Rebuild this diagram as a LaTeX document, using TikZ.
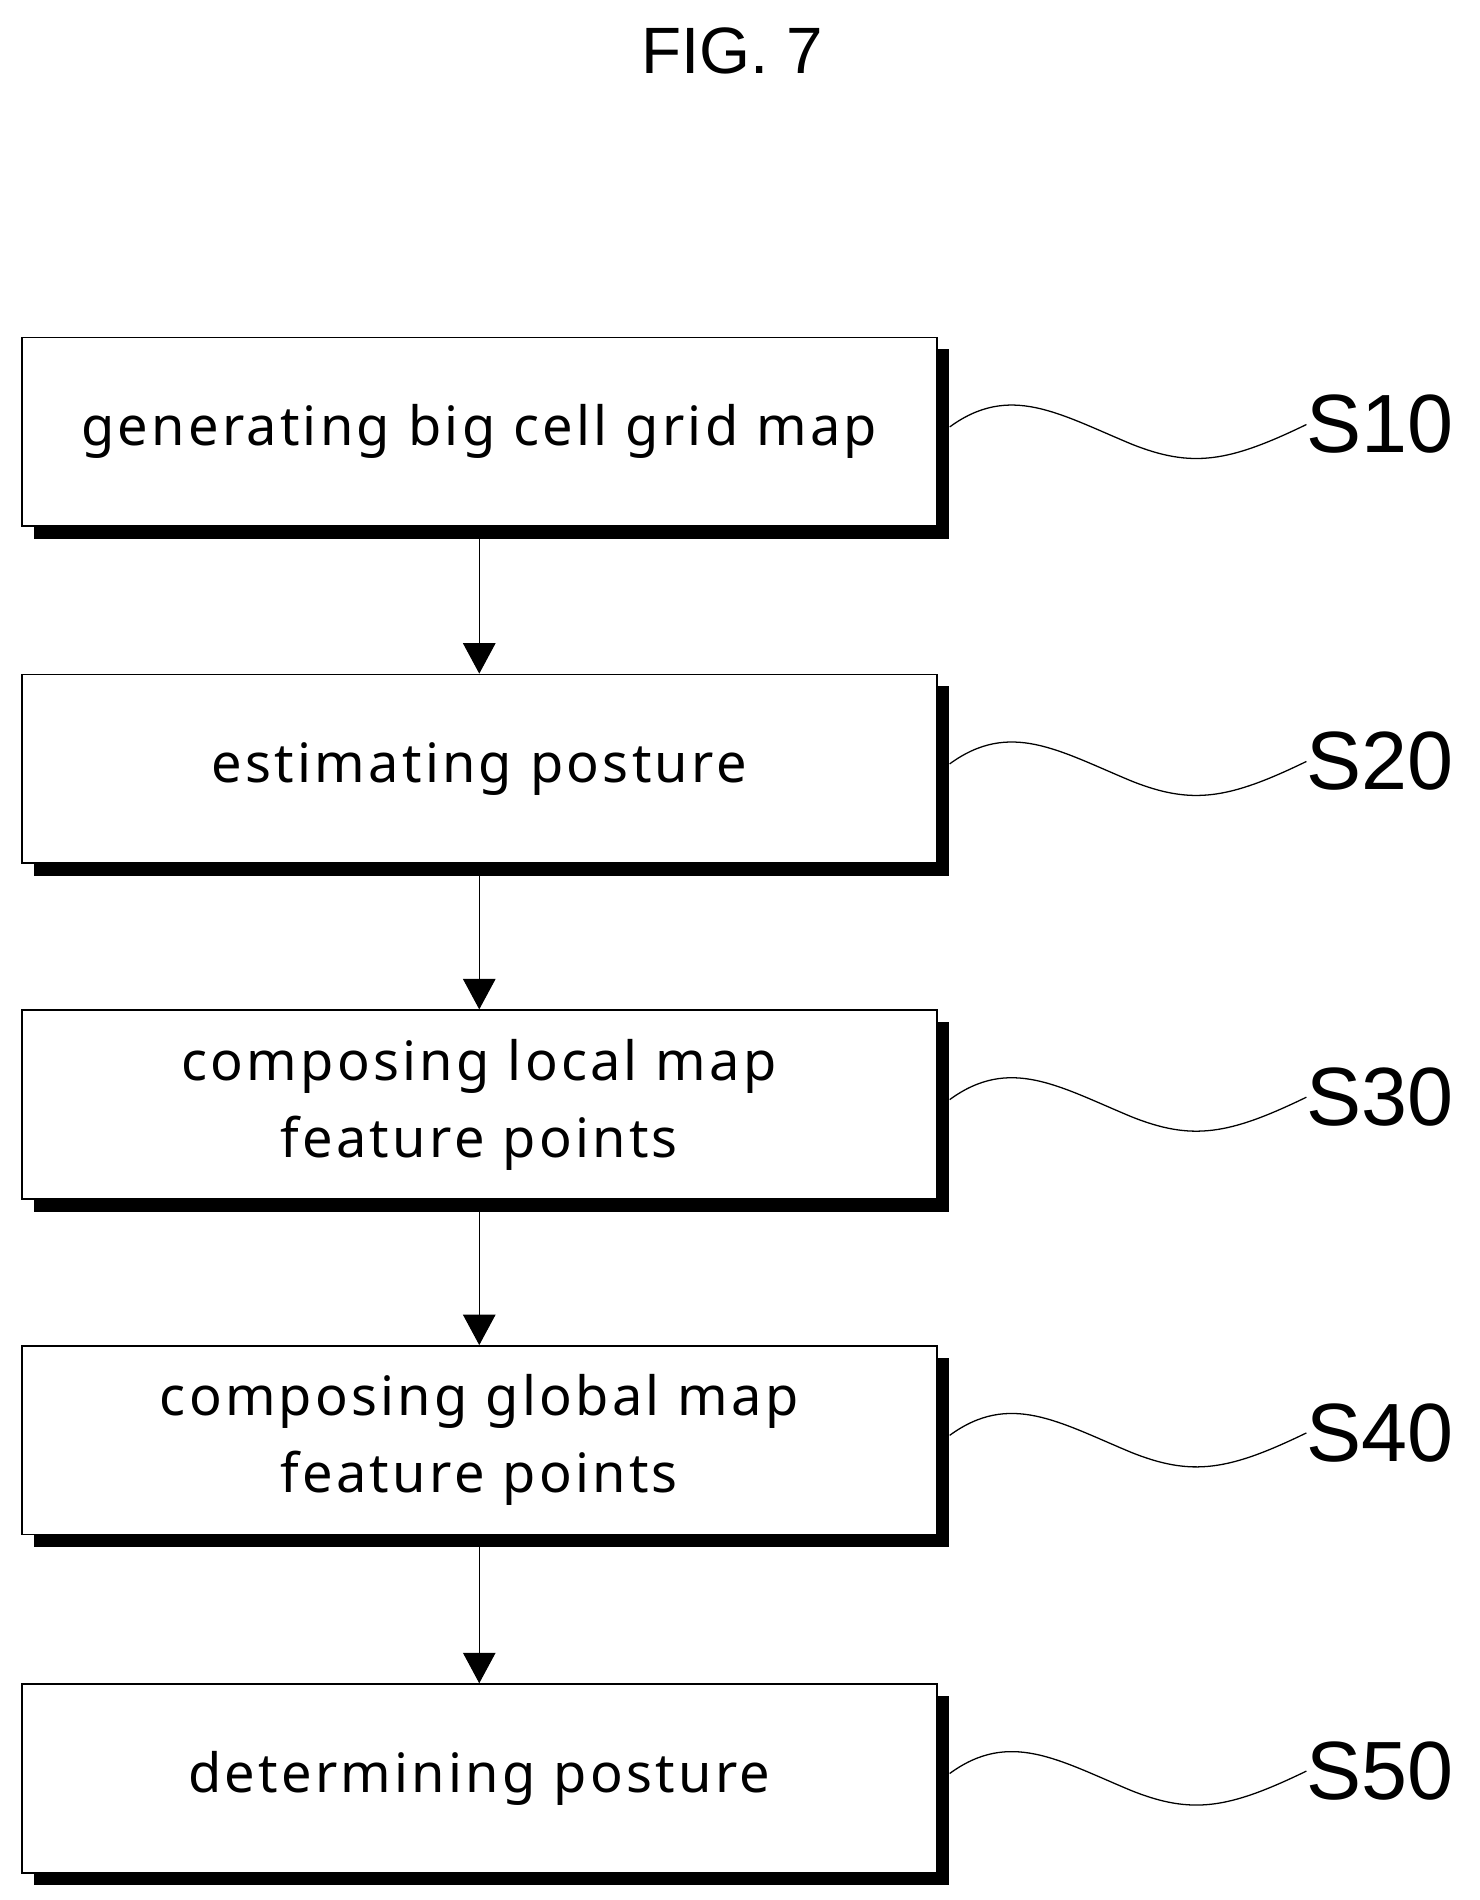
\documentclass[tikz,border=0pt]{standalone}
\usepackage{fontspec}
\setmainfont[LetterSpace=6]{Noto Sans}
\newfontfamily\lab{Liberation Sans}
\usetikzlibrary{arrows.meta}
\begin{document}
\begin{tikzpicture}[x=0.03cm,y=-0.03cm,
 box/.style={draw,line width=1.2pt,fill=white,minimum width=22.56cm,minimum height=4.65cm,inner sep=0pt,align=center,font=\fontsize{38}{54}\selectfont,text width=22cm},
 lbl/.style={font=\lab\fontsize{58}{60}\selectfont},
 arr/.style={line width=0.8pt,-{Triangle[length=0.75cm,width=0.8cm]}}]
\useasboundingbox (0,0) rectangle (1216,1562);
\node[font=\lab\fontsize{46}{50}\selectfont] (t) at (602,42) {FIG. 7};
\foreach \y/\n/\t/\s in {355/a/{generating big cell grid map}/S10,632/b/{estimating posture}/S20,908/c/{composing local map\\feature points}/S30,1184/d/{composing global map\\feature points}/S40,1462/e/{determining posture}/S50}{
 \fill (28,\y-68) rectangle (780,\y+88);
 \node[box] (\n) at (394,\y) {\t};
 \node[lbl,anchor=west,inner sep=0pt] (s\n) at (1074,\y-6) {\s};
 \draw[line width=0.9pt] (\n.east) ++(10,-4) .. controls (830,\y-40) and (870,\y-15) .. (930,\y+10) .. controls (980,\y+30) and (1010,\y+25) .. (s\n.west);
}
\draw[arr] (a.south) -- (b.north);
\draw[arr] (b.south) -- (c.north);
\draw[arr] (c.south) -- (d.north);
\draw[arr] (d.south) -- (e.north);
\end{tikzpicture}
\end{document}
